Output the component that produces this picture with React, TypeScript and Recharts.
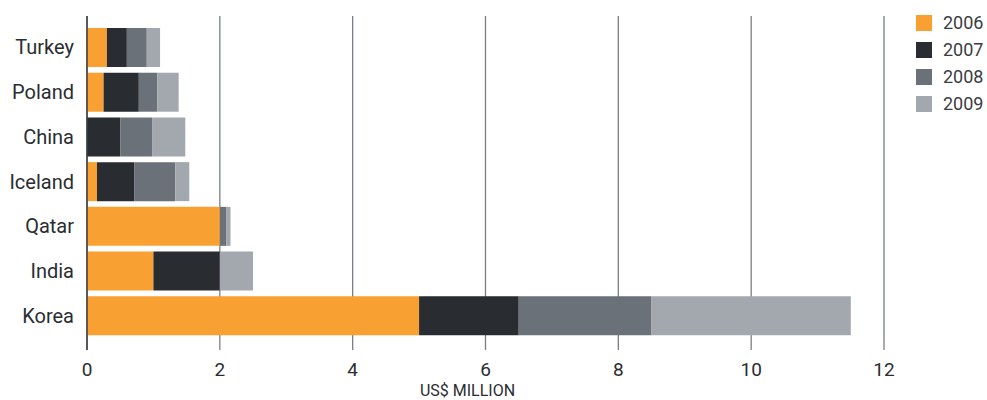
import React from "react";
import { BarChart, Bar, XAxis, YAxis, CartesianGrid, Legend } from "recharts";

const countries = ["Turkey", "Poland", "China", "Iceland", "Qatar", "India", "Korea"];
const v2006 = [0.3, 0.25, 0, 0.15, 2.0, 1.0, 5.0];
const v2007 = [0.3, 0.53, 0.5, 0.56, 0, 1.0, 1.5];
const v2008 = [0.3, 0.28, 0.48, 0.62, 0.1, 0, 2.0];
const v2009 = [0.2, 0.32, 0.5, 0.21, 0.06, 0.5, 3.0];
const xTicks = [0, 2, 4, 6, 8, 10, 12];
const seriesNames = ["2006", "2007", "2008", "2009"];
const colors = ["#F9A033", "#292C31", "#6B7178", "#A2A8AE"];

const data = countries.map((c, i) => ({
  name: c,
  "2006": v2006[i],
  "2007": v2007[i],
  "2008": v2008[i],
  "2009": v2009[i],
}));

const FONT = "Roboto, 'DejaVu Sans', sans-serif";

const renderLegend = (props: any) => {
  const { payload } = props;
  return (
    <div style={{ fontFamily: FONT }}>
      {payload.map((p: any) => (
        <div key={p.value} style={{ display: "flex", alignItems: "center", height: 27 }}>
          <div style={{ width: 16, height: 16, background: p.color, marginRight: 11 }} />
          <span style={{ fontSize: 18, color: "#3a3d42" }}>{p.value}</span>
        </div>
      ))}
    </div>
  );
};

export default function App() {
  return (
    <div style={{ position: "absolute", left: 0, top: 0, background: "#fff" }}>
      <BarChart
        width={987}
        height={400}
        data={data}
        layout="vertical"
        margin={{ top: 16, right: 23, left: 0, bottom: 0 }}
      >
        <CartesianGrid horizontal={false} vertical={true} stroke="#7a7e84" strokeWidth={1.3} />
        <XAxis
          type="number"
          domain={[0, 12]}
          ticks={xTicks}
          axisLine={false}
          tickLine={false}
          height={50}
          tick={{ fontSize: 19, fill: "#2a2d31", fontFamily: FONT }}
          tickMargin={7}
          label={{
            value: "US$ MILLION",
            position: "insideBottom",
            offset: 4,
            dx: -18,
            fontSize: 16,
            fill: "#2a2d31",
            fontFamily: FONT,
          }}
        />
        <YAxis
          type="category"
          dataKey="name"
          width={87}
          axisLine={{ stroke: "#3a3d42", strokeWidth: 1.5 }}
          tickLine={false}
          tickMargin={7}
          padding={{ top: 9, bottom: 12 }}
          tick={{ fontSize: 20, fill: "#2a2d31", fontFamily: FONT }}
        />
        <Legend
          layout="vertical"
          verticalAlign="top"
          align="right"
          content={renderLegend}
          wrapperStyle={{ position: "absolute", left: 916, top: 9, width: 80 }}
        />
        {seriesNames.map((s, i) => (
          <Bar key={s} dataKey={s} stackId="a" fill={colors[i]} barSize={39} isAnimationActive={false} />
        ))}
      </BarChart>
    </div>
  );
}
